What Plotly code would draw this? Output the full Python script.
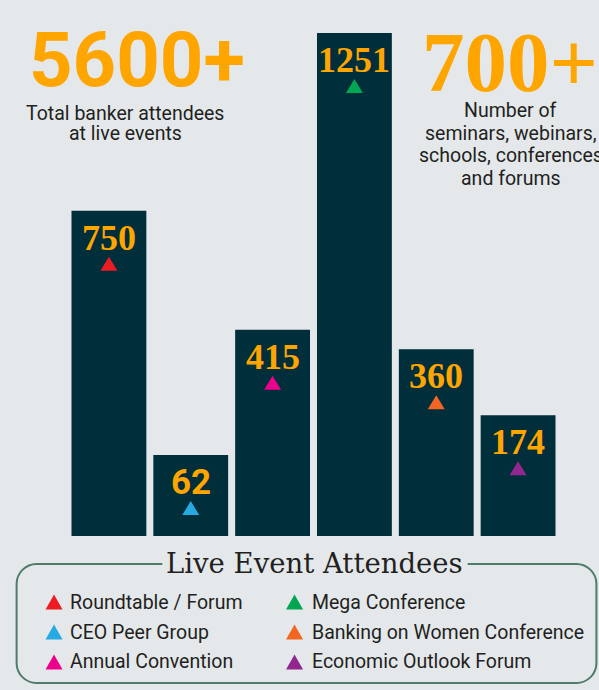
import plotly.graph_objects as go

# ---------------- data ----------------
categories = ["Roundtable / Forum", "CEO Peer Group", "Annual Convention",
              "Mega Conference", "Banking on Women Conference", "Economic Outlook Forum"]
attendees = [750, 62, 415, 1251, 360, 174]
marker_colors = ["#ed1c24", "#27aae1", "#ec008c", "#00a651", "#f26522", "#92278f"]

headline_left = "5600+"
headline_left_lines = ["Total banker attendees", "at live events"]
headline_right = "700+"
headline_right_lines = ["Number of", "seminars, webinars,", "schools, conferences", "and forums"]
legend_title = "Live Event Attendees"

# ---------------- style ----------------
BG = "#e4e8eb"
BAR = "#002e3b"
ORANGE = "#ffa500"
TEXT = "#231f20"
BORDER = "#4f7b6b"
BASE = -166          # visual baseline of the (non-zero based) bars
W, H = 599, 690
PL, PR, PT, PB = 67.5, 559.5, 33, 536

def fx(px):
    return (px - PL) / (PR - PL)

def fy(py):
    return (PB - py) / (PB - PT)

label_fonts = ["Liberation Serif", "Roboto", "Liberation Serif",
               "Liberation Serif", "Liberation Serif", "Liberation Serif"]
label_sizes = [36, 35, 36, 36, 36, 36]

fig = go.Figure()
fig.add_trace(go.Bar(
    x=list(range(len(categories))),
    y=[v - BASE for v in attendees],
    base=BASE,
    marker=dict(color=BAR, line=dict(width=0)),
    customdata=categories,
    text=attendees,
    textposition="none",
    hovertemplate="%{customdata}: %{text}<extra></extra>",
    showlegend=False,
))

annotations = []
shapes = []

# value labels and triangles on bars
for i, (v, c) in enumerate(zip(attendees, marker_colors)):
    annotations.append(dict(
        x=i, y=v, xref="x", yref="y", text=f"<b>{v}</b>", showarrow=False,
        xanchor="center", yanchor="middle", yshift=-27,
        font=dict(family=label_fonts[i], size=label_sizes[i], color=ORANGE)))
    shapes.append(dict(
        type="path", xref="x", yref="y", xsizemode="pixel", ysizemode="pixel",
        xanchor=i, yanchor=v, path="M 0,-46 L 8.5,-60 L -8.5,-60 Z",
        fillcolor=c, line=dict(width=0)))

# headlines
annotations.append(dict(
    x=fx(137), y=fy(60), xref="paper", yref="paper", text=f"<b>{headline_left}</b>",
    showarrow=False, xanchor="center", yanchor="middle",
    font=dict(family="Roboto", size=76, color=ORANGE)))
annotations.append(dict(
    x=fx(510), y=fy(61.5), xref="paper", yref="paper", text=f"<b>{headline_right}</b>",
    showarrow=False, xanchor="center", yanchor="middle",
    font=dict(family="Liberation Serif", size=85, color=ORANGE)))

for line, yy in zip(headline_left_lines, [113, 133]):
    annotations.append(dict(
        x=fx(125), y=fy(yy), xref="paper", yref="paper", text=line, showarrow=False,
        xanchor="center", yanchor="middle",
        font=dict(family="Roboto", size=19.5, color=TEXT)))
for line, yy in zip(headline_right_lines, [111, 133, 155, 178]):
    annotations.append(dict(
        x=fx(511), y=fy(yy), xref="paper", yref="paper", text=line, showarrow=False,
        xanchor="center", yanchor="middle",
        font=dict(family="Roboto", size=19.5, color=TEXT)))

# legend box
r, k = 20, 0.5523
x0, x1, y0, y1 = 16, 597, 564, 683
pts = [
    ("M", [(162, y0)]),
    ("L", [(x0 + r, y0)]),
    ("C", [(x0 + r - k * r, y0), (x0, y0 + r - k * r), (x0, y0 + r)]),
    ("L", [(x0, y1 - r)]),
    ("C", [(x0, y1 - r + k * r), (x0 + r - k * r, y1), (x0 + r, y1)]),
    ("L", [(x1 - r, y1)]),
    ("C", [(x1 - r + k * r, y1), (x1, y1 - r + k * r), (x1, y1 - r)]),
    ("L", [(x1, y0 + r)]),
    ("C", [(x1, y0 + r - k * r), (x1 - r + k * r, y0), (x1 - r, y0)]),
    ("L", [(468, y0)]),
]
path = " ".join(cmd + " " + " ".join(f"{fx(a):.5f},{fy(b):.5f}" for a, b in p) for cmd, p in pts)
shapes.append(dict(type="path", xref="paper", yref="paper", path=path,
                   line=dict(color=BORDER, width=2)))

annotations.append(dict(
    x=fx(315), y=fy(562.5), xref="paper", yref="paper", text=legend_title,
    showarrow=False, xanchor="center", yanchor="middle",
    font=dict(family="DejaVu Serif", size=27.5, color=TEXT)))

col_tri = [53.5, 294.5]
col_txt = [68, 310]
rows = [602, 632, 662]
for i, (name, c) in enumerate(zip(categories, marker_colors)):
    col, row = divmod(i, 3)
    shapes.append(dict(
        type="path", xref="paper", yref="paper", xsizemode="pixel", ysizemode="pixel",
        xanchor=fx(col_tri[col]), yanchor=fy(rows[row]),
        path="M 0,7.5 L 8.5,-7.5 L -8.5,-7.5 Z", fillcolor=c, line=dict(width=0)))
    annotations.append(dict(
        x=fx(col_txt[col]), y=fy(rows[row]), xref="paper", yref="paper", text=name,
        showarrow=False, xanchor="left", yanchor="middle",
        font=dict(family="Roboto", size=19.5, color=TEXT)))

fig.update_layout(
    width=W, height=H,
    margin=dict(l=PL, r=W - PR, t=PT, b=H - PB, pad=0),
    paper_bgcolor=BG, plot_bgcolor=BG,
    bargap=7 / 82,
    xaxis=dict(visible=False, range=[-0.5, len(categories) - 0.5]),
    yaxis=dict(visible=False, range=[BASE, max(attendees)]),
    annotations=annotations, shapes=shapes,
    showlegend=False,
)

fig.write_html(
    "out.html",
    config={"displayModeBar": False},
    post_script="document.body.style.margin='0';document.body.style.background='" + BG + "';",
)
